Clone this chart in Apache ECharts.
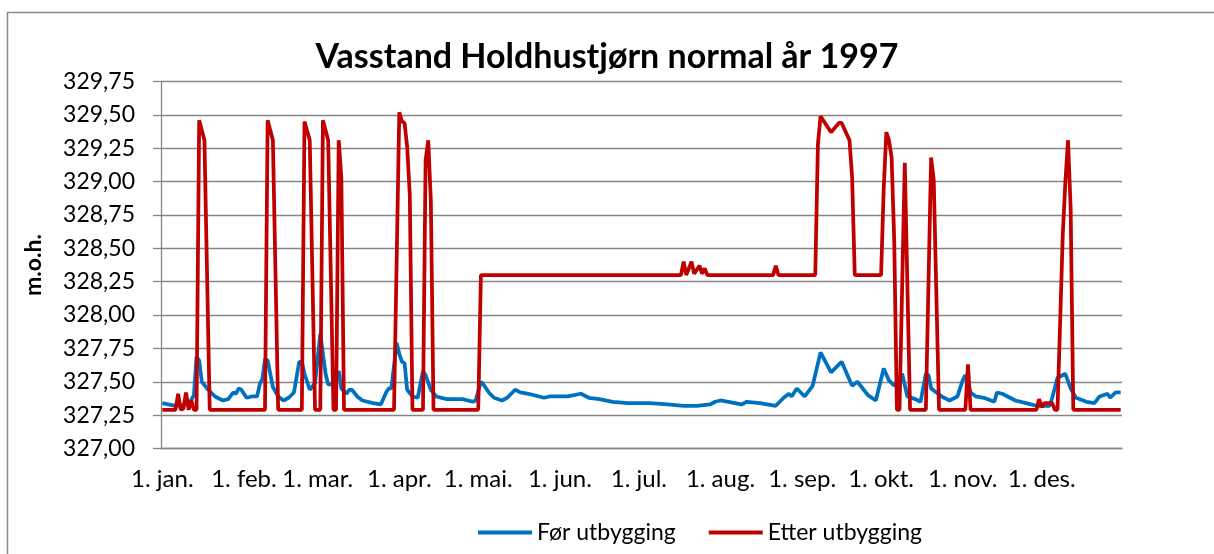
<!DOCTYPE html>
<html><head><meta charset="utf-8">
<script src="https://cdn.jsdelivr.net/npm/echarts@6/dist/echarts.min.js"></script>
<style>html,body{margin:0;padding:0;background:#fff}#c{width:1214px;height:554px}</style>
</head><body><div id="c"></div>
<script>
// Month tick labels (Norwegian) and the day-of-year index where each month starts (1997)
const monthNames = ['jan.','feb.','mar.','apr.','mai.','jun.','jul.','aug.','sep.','okt.','nov.','des.'];
const monthStartDays = [0,31,59,90,120,151,181,212,243,273,304,334];
const daysInYear = 365;

// Series values: [day index, water level m.o.h.]
const forUtbygging = [[0,327.34],[5,327.32],[10,327.33],[12,327.40],[13,327.69],[14,327.66],[15,327.50],[17,327.45],[20,327.39],[23,327.36],[25,327.37],[27,327.42],[28,327.41],[29,327.45],[30,327.44],[32,327.38],[34,327.39],[36,327.39],[37,327.48],[38,327.52],[39,327.67],[40,327.66],[42,327.46],[44,327.39],[46,327.36],[48,327.38],[50,327.42],[52,327.65],[53,327.65],[54,327.56],[56,327.44],[58,327.49],[60,327.86],[62,327.56],[63,327.48],[65,327.48],[67,327.58],[68,327.45],[70,327.41],[71,327.44],[72,327.44],[74,327.39],[76,327.36],[80,327.34],[83,327.33],[85,327.42],[86,327.45],[87,327.45],[89,327.79],[90,327.71],[91,327.65],[92,327.64],[93,327.44],[95,327.39],[97,327.38],[99,327.58],[100,327.55],[102,327.44],[104,327.39],[108,327.37],[114,327.37],[118,327.35],[119,327.36],[121,327.50],[122,327.48],[124,327.42],[126,327.38],[129,327.36],[131,327.38],[134,327.44],[136,327.42],[139,327.41],[145,327.38],[147,327.39],[154,327.39],[159,327.41],[162,327.38],[166,327.37],[171,327.35],[177,327.34],[185,327.34],[192,327.33],[198,327.32],[203,327.32],[208,327.33],[210,327.35],[212,327.36],[215,327.35],[220,327.33],[222,327.35],[227,327.34],[233,327.32],[236,327.38],[238,327.41],[239,327.39],[241,327.45],[244,327.39],[247,327.47],[250,327.72],[254,327.57],[258,327.65],[262,327.47],[264,327.50],[268,327.40],[271,327.36],[274,327.60],[276,327.51],[278,327.47],[281,327.56],[283,327.39],[286,327.37],[288,327.35],[290,327.56],[291,327.55],[292,327.45],[296,327.39],[299,327.36],[302,327.39],[304,327.51],[305,327.55],[307,327.42],[309,327.39],[312,327.38],[316,327.35],[317,327.42],[319,327.41],[324,327.36],[328,327.34],[332,327.32],[337,327.32],[338,327.38],[340,327.53],[343,327.56],[345,327.45],[347,327.38],[351,327.35],[354,327.34],[356,327.39],[359,327.41],[360,327.38],[362,327.42],[364,327.42]];

const etterUtbygging = [[0,327.29],[5,327.29],[6,327.41],[7,327.29],[8,327.30],[9,327.42],[10,327.29],[11,327.36],[12,327.29],[13,327.29],[14,329.46],[16,329.31],[18,327.29],[39,327.29],[40,329.46],[42,329.31],[44,327.29],[53,327.29],[54,329.45],[56,329.31],[58,327.29],[60,327.29],[61,329.46],[63,329.31],[65,327.29],[66,327.29],[67,329.31],[68,329.03],[69,327.29],[88,327.29],[90,329.52],[91,329.45],[92,329.44],[93,329.26],[94,328.90],[95,327.29],[99,327.29],[100,329.16],[101,329.31],[102,328.85],[103,327.29],[120,327.29],[121,328.30],[197,328.30],[198,328.40],[199,328.30],[201,328.40],[202,328.31],[204,328.37],[205,328.31],[206,328.35],[207,328.30],[232,328.30],[233,328.37],[234,328.30],[248,328.30],[249,329.28],[250,329.49],[254,329.37],[257,329.44],[258,329.44],[261,329.31],[262,329.03],[263,328.30],[273,328.30],[274,328.95],[275,329.37],[276,329.31],[277,329.18],[278,328.55],[279,327.29],[280,327.29],[282,329.14],[284,327.29],[290,327.29],[292,329.18],[293,329.01],[295,327.29],[305,327.29],[306,327.63],[307,327.29],[332,327.29],[333,327.37],[334,327.31],[335,327.34],[338,327.34],[339,327.29],[340,327.29],[342,328.60],[343,329.00],[344,329.31],[345,328.80],[346,327.29],[364,327.29]];

const seriesNames = ['Før utbygging','Etter utbygging'];
const titleText = 'Vasstand Holdhustjørn normal år 1997';
const yAxisName = 'm.o.h.';

const startSet = new Set(monthStartDays);
const categories = [];
for (let i = 0; i < daysInYear; i++) {
  const k = monthStartDays.indexOf(i);
  categories.push(k >= 0 ? '1. ' + monthNames[k] : '');
}

const FONT = 'Lato';
const gray = '#868686';
const chart = echarts.init(document.getElementById('c'));
chart.setOption({
  animation: false,
  backgroundColor: '#fff',
  title: {
    text: titleText, left: 'center', top: 35, padding: [5, 0, 5, 12],
    textStyle: {fontFamily: FONT, fontWeight: 'bold', fontSize: 34, color: '#000'}
  },
  graphic: [{
    type: 'rect', silent: true, z: -1,
    shape: {x: 7.5, y: 12.5, width: 1300, height: 700},
    style: {fill: 'none', stroke: '#8a8a8a', lineWidth: 1.5}
  }],
  legend: {
    data: seriesNames, left: 473, top: 516,
    icon: 'rect', itemWidth: 54, itemHeight: 4, itemGap: 33,
    textStyle: {fontFamily: FONT, fontSize: 23, color: '#000'}
  },
  grid: {left: 161, right: 92, top: 81.5, bottom: 105.5},
  xAxis: {
    type: 'category', data: categories, boundaryGap: true,
    axisLine: {lineStyle: {color: gray, width: 1.3}},
    axisTick: {interval: (i) => startSet.has(i), length: 6, lineStyle: {color: gray, width: 1.3}},
    axisLabel: {interval: (i) => startSet.has(i), fontFamily: FONT, fontSize: 24, color: '#000', margin: 19},
    splitLine: {show: false}
  },
  yAxis: {
    type: 'value', min: 327, max: 329.75, interval: 0.25,
    name: yAxisName, nameLocation: 'middle', nameGap: 116, nameRotate: 90,
    nameTextStyle: {fontFamily: FONT, fontWeight: 'bold', fontSize: 23, color: '#000'},
    axisLine: {show: true, lineStyle: {color: gray, width: 1.3}},
    axisTick: {show: true, length: 8, lineStyle: {color: gray, width: 1.3}},
    axisLabel: {formatter: (v) => v.toFixed(2).replace('.', ','), fontFamily: FONT, fontSize: 23, color: '#000', margin: 26},
    splitLine: {lineStyle: {color: gray, width: 1.3}}
  },
  series: [
    {name: seriesNames[0], type: 'line', data: forUtbygging, showSymbol: false, symbol: 'none',
     lineStyle: {color: '#0070C0', width: 3.75}, itemStyle: {color: '#0070C0'}},
    {name: seriesNames[1], type: 'line', data: etterUtbygging, showSymbol: false, symbol: 'none',
     lineStyle: {color: '#C00000', width: 3.75}, itemStyle: {color: '#C00000'}}
  ]
});
</script></body></html>
